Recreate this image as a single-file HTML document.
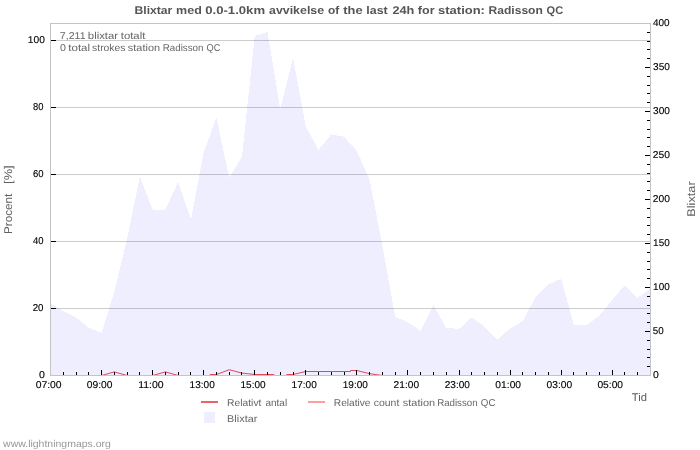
<!DOCTYPE html>
<html><head><meta charset="utf-8"><title>Blixtar</title>
<style>html,body{margin:0;padding:0;background:#fff;overflow:hidden}svg{will-change:transform;text-rendering:geometricPrecision}body{width:700px;height:450px;font-family:"Liberation Sans",sans-serif}</style></head>
<body>
<svg width="700" height="450" viewBox="0 0 700 450" style="display:block;font-family:'Liberation Sans',sans-serif">
<rect width="700" height="450" fill="#fff"/>
<polygon points="50,375 50.50,303.3 63.27,311.0 76.03,317.3 88.80,327.8 101.56,332.9 114.33,292.0 127.10,238.5 139.86,176.7 152.63,209.6 165.39,209.6 178.16,181.8 190.93,219.6 203.69,152.2 216.46,117.8 229.22,177.7 241.99,156.7 254.76,36.0 267.52,32.2 280.29,109.3 293.05,57.6 305.82,126.7 318.59,149.8 331.35,134.4 344.12,136.7 356.88,151.1 369.65,180.0 382.41,246.0 395.18,316.7 407.95,322.2 420.71,331.1 433.48,305.1 446.24,327.8 459.01,328.9 471.78,317.3 484.54,326.7 497.31,339.6 510.07,328.5 522.84,321.1 535.61,296.7 548.37,284.4 561.14,278.8 573.90,324.9 586.67,324.9 599.44,315.6 612.20,300.0 624.97,285.1 637.73,297.8 650.50,288.4 650,375" fill="#eeeeff" shape-rendering="crispEdges"/>
<g stroke="#000" stroke-opacity="0.2" stroke-width="1" shape-rendering="crispEdges">
<line x1="50" y1="308.5" x2="650" y2="308.5"/>
<line x1="50" y1="241.5" x2="650" y2="241.5"/>
<line x1="50" y1="174.5" x2="650" y2="174.5"/>
<line x1="50" y1="107.5" x2="650" y2="107.5"/>
<line x1="50" y1="40.5" x2="650" y2="40.5"/>
</g>
<polyline points="50.50,375.5 63.27,375.5 76.03,375.5 88.80,375.5 101.56,375.5 114.33,371.9 127.10,375.5 139.86,375.5 152.63,375.5 165.39,371.9 178.16,375.5 190.93,375.5 203.69,375.5 210.07,375.5 210.07,374.5 216.46,374.5 229.22,369.7 241.99,373.1 254.76,374.5 267.52,374.5 273.90,374.5 273.90,375.5 280.29,375.5 286.67,375.5 286.67,374.5 293.05,374.5 305.82,371.5 318.59,371.5 331.35,371.5 344.12,371.5 350.50,371.5 350.50,370.5 356.88,370.5 369.65,373.7 382.41,375.5 395.18,375.5 407.95,375.5 420.71,375.5 433.48,375.5 446.24,375.5 459.01,375.5 471.78,375.5 484.54,375.5 497.31,375.5 510.07,375.5 522.84,375.5 535.61,375.5 548.37,375.5 561.14,375.5 573.90,375.5 586.67,375.5 599.44,375.5 612.20,375.5 624.97,375.5 637.73,375.5 650.50,375.5" fill="none" stroke="#e0485c" stroke-width="1"/>
<g stroke="#c4c4c4" stroke-width="1" shape-rendering="crispEdges" fill="none">
<line x1="50" y1="23.5" x2="651" y2="23.5"/>
<line x1="50" y1="375.5" x2="651" y2="375.5"/>
<line x1="50.5" y1="23" x2="50.5" y2="376"/>
<line x1="650.5" y1="23" x2="650.5" y2="376"/>
</g>
<g stroke="#000" stroke-width="1" shape-rendering="crispEdges">
<line x1="51" y1="308.5" x2="56" y2="308.5"/>
<line x1="51" y1="241.5" x2="56" y2="241.5"/>
<line x1="51" y1="174.5" x2="56" y2="174.5"/>
<line x1="51" y1="107.5" x2="56" y2="107.5"/>
<line x1="51" y1="40.5" x2="56" y2="40.5"/>
<line x1="647" y1="366.5" x2="650" y2="366.5"/>
<line x1="647" y1="357.5" x2="650" y2="357.5"/>
<line x1="647" y1="349.5" x2="650" y2="349.5"/>
<line x1="647" y1="340.5" x2="650" y2="340.5"/>
<line x1="645" y1="331.5" x2="650" y2="331.5"/>
<line x1="647" y1="322.5" x2="650" y2="322.5"/>
<line x1="647" y1="313.5" x2="650" y2="313.5"/>
<line x1="647" y1="305.5" x2="650" y2="305.5"/>
<line x1="647" y1="296.5" x2="650" y2="296.5"/>
<line x1="645" y1="287.5" x2="650" y2="287.5"/>
<line x1="647" y1="278.5" x2="650" y2="278.5"/>
<line x1="647" y1="269.5" x2="650" y2="269.5"/>
<line x1="647" y1="261.5" x2="650" y2="261.5"/>
<line x1="647" y1="252.5" x2="650" y2="252.5"/>
<line x1="645" y1="243.5" x2="650" y2="243.5"/>
<line x1="647" y1="234.5" x2="650" y2="234.5"/>
<line x1="647" y1="225.5" x2="650" y2="225.5"/>
<line x1="647" y1="217.5" x2="650" y2="217.5"/>
<line x1="647" y1="208.5" x2="650" y2="208.5"/>
<line x1="645" y1="199.5" x2="650" y2="199.5"/>
<line x1="647" y1="190.5" x2="650" y2="190.5"/>
<line x1="647" y1="181.5" x2="650" y2="181.5"/>
<line x1="647" y1="173.5" x2="650" y2="173.5"/>
<line x1="647" y1="164.5" x2="650" y2="164.5"/>
<line x1="645" y1="155.5" x2="650" y2="155.5"/>
<line x1="647" y1="146.5" x2="650" y2="146.5"/>
<line x1="647" y1="137.5" x2="650" y2="137.5"/>
<line x1="647" y1="129.5" x2="650" y2="129.5"/>
<line x1="647" y1="120.5" x2="650" y2="120.5"/>
<line x1="645" y1="111.5" x2="650" y2="111.5"/>
<line x1="647" y1="102.5" x2="650" y2="102.5"/>
<line x1="647" y1="93.5" x2="650" y2="93.5"/>
<line x1="647" y1="85.5" x2="650" y2="85.5"/>
<line x1="647" y1="76.5" x2="650" y2="76.5"/>
<line x1="645" y1="67.5" x2="650" y2="67.5"/>
<line x1="647" y1="58.5" x2="650" y2="58.5"/>
<line x1="647" y1="49.5" x2="650" y2="49.5"/>
<line x1="647" y1="41.5" x2="650" y2="41.5"/>
<line x1="647" y1="32.5" x2="650" y2="32.5"/>
<line x1="63.5" y1="372" x2="63.5" y2="375"/>
<line x1="76.5" y1="372" x2="76.5" y2="375"/>
<line x1="88.5" y1="372" x2="88.5" y2="375"/>
<line x1="101.5" y1="370" x2="101.5" y2="375"/>
<line x1="114.5" y1="372" x2="114.5" y2="375"/>
<line x1="127.5" y1="372" x2="127.5" y2="375"/>
<line x1="139.5" y1="372" x2="139.5" y2="375"/>
<line x1="152.5" y1="370" x2="152.5" y2="375"/>
<line x1="165.5" y1="372" x2="165.5" y2="375"/>
<line x1="178.5" y1="372" x2="178.5" y2="375"/>
<line x1="190.5" y1="372" x2="190.5" y2="375"/>
<line x1="203.5" y1="370" x2="203.5" y2="375"/>
<line x1="216.5" y1="372" x2="216.5" y2="375"/>
<line x1="229.5" y1="372" x2="229.5" y2="375"/>
<line x1="241.5" y1="372" x2="241.5" y2="375"/>
<line x1="254.5" y1="370" x2="254.5" y2="375"/>
<line x1="267.5" y1="372" x2="267.5" y2="375"/>
<line x1="280.5" y1="372" x2="280.5" y2="375"/>
<line x1="293.5" y1="372" x2="293.5" y2="375"/>
<line x1="305.5" y1="370" x2="305.5" y2="375"/>
<line x1="318.5" y1="372" x2="318.5" y2="375"/>
<line x1="331.5" y1="372" x2="331.5" y2="375"/>
<line x1="344.5" y1="372" x2="344.5" y2="375"/>
<line x1="356.5" y1="370" x2="356.5" y2="375"/>
<line x1="369.5" y1="372" x2="369.5" y2="375"/>
<line x1="382.5" y1="372" x2="382.5" y2="375"/>
<line x1="395.5" y1="372" x2="395.5" y2="375"/>
<line x1="407.5" y1="370" x2="407.5" y2="375"/>
<line x1="420.5" y1="372" x2="420.5" y2="375"/>
<line x1="433.5" y1="372" x2="433.5" y2="375"/>
<line x1="446.5" y1="372" x2="446.5" y2="375"/>
<line x1="459.5" y1="370" x2="459.5" y2="375"/>
<line x1="471.5" y1="372" x2="471.5" y2="375"/>
<line x1="484.5" y1="372" x2="484.5" y2="375"/>
<line x1="497.5" y1="372" x2="497.5" y2="375"/>
<line x1="510.5" y1="370" x2="510.5" y2="375"/>
<line x1="522.5" y1="372" x2="522.5" y2="375"/>
<line x1="535.5" y1="372" x2="535.5" y2="375"/>
<line x1="548.5" y1="372" x2="548.5" y2="375"/>
<line x1="561.5" y1="370" x2="561.5" y2="375"/>
<line x1="573.5" y1="372" x2="573.5" y2="375"/>
<line x1="586.5" y1="372" x2="586.5" y2="375"/>
<line x1="599.5" y1="372" x2="599.5" y2="375"/>
<line x1="612.5" y1="370" x2="612.5" y2="375"/>
<line x1="624.5" y1="372" x2="624.5" y2="375"/>
<line x1="637.5" y1="372" x2="637.5" y2="375"/>
</g>
<text x="134.53" y="14.00" font-size="11.2" fill="#555555" font-weight="bold" textLength="37.82" lengthAdjust="spacingAndGlyphs">Blixtar</text>
<text x="176.09" y="14.00" font-size="11.2" fill="#555555" font-weight="bold" textLength="25.71" lengthAdjust="spacingAndGlyphs">med</text>
<text x="205.19" y="14.00" font-size="11.2" fill="#555555" font-weight="bold" textLength="59.88" lengthAdjust="spacingAndGlyphs">0.0-1.0km</text>
<text x="269.04" y="14.00" font-size="11.2" fill="#555555" font-weight="bold" textLength="55.06" lengthAdjust="spacingAndGlyphs">avvikelse</text>
<text x="328.08" y="14.00" font-size="11.2" fill="#555555" font-weight="bold" textLength="11.23" lengthAdjust="spacingAndGlyphs">of</text>
<text x="343.34" y="14.00" font-size="11.2" fill="#555555" font-weight="bold" textLength="19.27" lengthAdjust="spacingAndGlyphs">the</text>
<text x="366.32" y="14.00" font-size="11.2" fill="#555555" font-weight="bold" textLength="21.34" lengthAdjust="spacingAndGlyphs">last</text>
<text x="392.43" y="14.00" font-size="11.2" fill="#555555" font-weight="bold" textLength="21.96" lengthAdjust="spacingAndGlyphs">24h</text>
<text x="417.84" y="14.00" font-size="11.2" fill="#555555" font-weight="bold" textLength="16.71" lengthAdjust="spacingAndGlyphs">for</text>
<text x="438.08" y="14.00" font-size="11.2" fill="#555555" font-weight="bold" textLength="46.81" lengthAdjust="spacingAndGlyphs">station:</text>
<text x="488.53" y="14.00" font-size="11.2" fill="#555555" font-weight="bold" textLength="54.34" lengthAdjust="spacingAndGlyphs">Radisson</text>
<text x="546.58" y="14.00" font-size="11.2" fill="#555555" font-weight="bold" textLength="16.60" lengthAdjust="spacingAndGlyphs">QC</text>
<text x="59.88" y="39.00" font-size="9.9" fill="#666666" textLength="25.64" lengthAdjust="spacingAndGlyphs">7,211</text>
<text x="87.82" y="39.00" font-size="9.9" fill="#666666" textLength="30.33" lengthAdjust="spacingAndGlyphs">blixtar</text>
<text x="120.75" y="39.00" font-size="9.9" fill="#666666" textLength="24.55" lengthAdjust="spacingAndGlyphs">totalt</text>
<text x="60.10" y="51.00" font-size="9.9" fill="#666666" textLength="5.91" lengthAdjust="spacingAndGlyphs">0</text>
<text x="68.34" y="51.00" font-size="9.9" fill="#666666" textLength="21.75" lengthAdjust="spacingAndGlyphs">total</text>
<text x="92.14" y="51.00" font-size="9.9" fill="#666666" textLength="33.37" lengthAdjust="spacingAndGlyphs">strokes</text>
<text x="127.84" y="51.00" font-size="9.9" fill="#666666" textLength="32.24" lengthAdjust="spacingAndGlyphs">station</text>
<text x="162.82" y="51.00" font-size="9.9" fill="#666666" textLength="40.61" lengthAdjust="spacingAndGlyphs">Radisson</text>
<text x="206.57" y="51.00" font-size="9.9" fill="#666666" textLength="13.70" lengthAdjust="spacingAndGlyphs">QC</text>
<text x="27.79" y="43.00" font-size="9.9" fill="#000" stroke="#000" stroke-width="0.12" textLength="17.04" lengthAdjust="spacingAndGlyphs">100</text>
<text x="33.12" y="110.00" font-size="9.9" fill="#000" stroke="#000" stroke-width="0.12" textLength="10.45" lengthAdjust="spacingAndGlyphs">80</text>
<text x="32.96" y="177.00" font-size="9.9" fill="#000" stroke="#000" stroke-width="0.12" textLength="10.56" lengthAdjust="spacingAndGlyphs">60</text>
<text x="33.04" y="244.00" font-size="9.9" fill="#000" stroke="#000" stroke-width="0.12" textLength="10.53" lengthAdjust="spacingAndGlyphs">40</text>
<text x="32.71" y="311.00" font-size="9.9" fill="#000" stroke="#000" stroke-width="0.12" textLength="10.81" lengthAdjust="spacingAndGlyphs">20</text>
<text x="38.97" y="378.00" font-size="9.9" fill="#000" stroke="#000" stroke-width="0.12" textLength="5.88" lengthAdjust="spacingAndGlyphs">0</text>
<text x="652.99" y="378.00" font-size="9.9" fill="#000" stroke="#000" stroke-width="0.12" textLength="5.80" lengthAdjust="spacingAndGlyphs">0</text>
<text x="652.76" y="334.00" font-size="9.9" fill="#000" stroke="#000" stroke-width="0.12" textLength="10.92" lengthAdjust="spacingAndGlyphs">50</text>
<text x="653.11" y="290.00" font-size="9.9" fill="#000" stroke="#000" stroke-width="0.12" textLength="16.57" lengthAdjust="spacingAndGlyphs">100</text>
<text x="653.11" y="246.00" font-size="9.9" fill="#000" stroke="#000" stroke-width="0.12" textLength="16.57" lengthAdjust="spacingAndGlyphs">150</text>
<text x="652.77" y="202.00" font-size="9.9" fill="#000" stroke="#000" stroke-width="0.12" textLength="17.16" lengthAdjust="spacingAndGlyphs">200</text>
<text x="652.77" y="158.00" font-size="9.9" fill="#000" stroke="#000" stroke-width="0.12" textLength="17.16" lengthAdjust="spacingAndGlyphs">250</text>
<text x="653.03" y="114.00" font-size="9.9" fill="#000" stroke="#000" stroke-width="0.12" textLength="16.89" lengthAdjust="spacingAndGlyphs">300</text>
<text x="653.03" y="70.00" font-size="9.9" fill="#000" stroke="#000" stroke-width="0.12" textLength="16.89" lengthAdjust="spacingAndGlyphs">350</text>
<text x="653.04" y="26.00" font-size="9.9" fill="#000" stroke="#000" stroke-width="0.12" textLength="16.62" lengthAdjust="spacingAndGlyphs">400</text>
<text x="35.69" y="388.00" font-size="9.9" fill="#000" stroke="#000" stroke-width="0.12" textLength="25.93" lengthAdjust="spacingAndGlyphs">07:00</text>
<text x="86.82" y="388.00" font-size="9.9" fill="#000" stroke="#000" stroke-width="0.12" textLength="25.67" lengthAdjust="spacingAndGlyphs">09:00</text>
<text x="138.23" y="388.00" font-size="9.9" fill="#000" stroke="#000" stroke-width="0.12" textLength="25.41" lengthAdjust="spacingAndGlyphs">11:00</text>
<text x="189.61" y="388.00" font-size="9.9" fill="#000" stroke="#000" stroke-width="0.12" textLength="25.15" lengthAdjust="spacingAndGlyphs">13:00</text>
<text x="240.50" y="388.00" font-size="9.9" fill="#000" stroke="#000" stroke-width="0.12" textLength="25.15" lengthAdjust="spacingAndGlyphs">15:00</text>
<text x="291.63" y="388.00" font-size="9.9" fill="#000" stroke="#000" stroke-width="0.12" textLength="25.15" lengthAdjust="spacingAndGlyphs">17:00</text>
<text x="342.77" y="388.00" font-size="9.9" fill="#000" stroke="#000" stroke-width="0.12" textLength="25.14" lengthAdjust="spacingAndGlyphs">19:00</text>
<text x="393.61" y="388.00" font-size="9.9" fill="#000" stroke="#000" stroke-width="0.12" textLength="25.43" lengthAdjust="spacingAndGlyphs">21:00</text>
<text x="444.75" y="388.00" font-size="9.9" fill="#000" stroke="#000" stroke-width="0.12" textLength="25.18" lengthAdjust="spacingAndGlyphs">23:00</text>
<text x="495.39" y="388.00" font-size="9.9" fill="#000" stroke="#000" stroke-width="0.12" textLength="25.67" lengthAdjust="spacingAndGlyphs">01:00</text>
<text x="546.52" y="388.00" font-size="9.9" fill="#000" stroke="#000" stroke-width="0.12" textLength="25.68" lengthAdjust="spacingAndGlyphs">03:00</text>
<text x="597.40" y="388.00" font-size="9.9" fill="#000" stroke="#000" stroke-width="0.12" textLength="25.67" lengthAdjust="spacingAndGlyphs">05:00</text>
<text x="631.73" y="401.00" font-size="11.2" fill="#5a5a5a" textLength="15.17" lengthAdjust="spacingAndGlyphs">Tid</text>
<text x="227.13" y="406.00" font-size="9.9" fill="#666666" textLength="34.28" lengthAdjust="spacingAndGlyphs">Relativt</text>
<text x="265.43" y="406.00" font-size="9.9" fill="#666666" textLength="21.75" lengthAdjust="spacingAndGlyphs">antal</text>
<text x="333.82" y="406.00" font-size="9.9" fill="#666666" textLength="36.70" lengthAdjust="spacingAndGlyphs">Relative</text>
<text x="373.79" y="406.00" font-size="9.9" fill="#666666" textLength="25.51" lengthAdjust="spacingAndGlyphs">count</text>
<text x="402.84" y="406.00" font-size="9.9" fill="#666666" textLength="32.24" lengthAdjust="spacingAndGlyphs">station</text>
<text x="437.13" y="406.00" font-size="9.9" fill="#666666" textLength="40.49" lengthAdjust="spacingAndGlyphs">Radisson</text>
<text x="480.87" y="406.00" font-size="9.9" fill="#666666" textLength="14.67" lengthAdjust="spacingAndGlyphs">QC</text>
<text x="227.12" y="422.00" font-size="9.9" fill="#666666" textLength="30.23" lengthAdjust="spacingAndGlyphs">Blixtar</text>
<text x="3.10" y="447.00" font-size="9.9" fill="#999999" textLength="107.75" lengthAdjust="spacingAndGlyphs">www.lightningmaps.org</text>
<text x="12.00" y="233.92" font-size="11.2" fill="#606060" transform="rotate(-90 12.00 233.92)" textLength="40.12" lengthAdjust="spacingAndGlyphs">Procent</text>
<text x="12.00" y="183.93" font-size="11.2" fill="#606060" transform="rotate(-90 12.00 183.93)" textLength="18.56" lengthAdjust="spacingAndGlyphs">[%]</text>
<text x="695.00" y="216.74" font-size="11.2" fill="#606060" transform="rotate(-90 695.00 216.74)" textLength="35.39" lengthAdjust="spacingAndGlyphs">Blixtar</text>
<rect x="201" y="401" width="17" height="2" fill="#ea6464"/>
<rect x="308" y="401" width="17" height="2" fill="#ff9e9e"/>
<rect x="204" y="412" width="11" height="11" fill="#eeeeff"/>
</svg>
</body></html>
